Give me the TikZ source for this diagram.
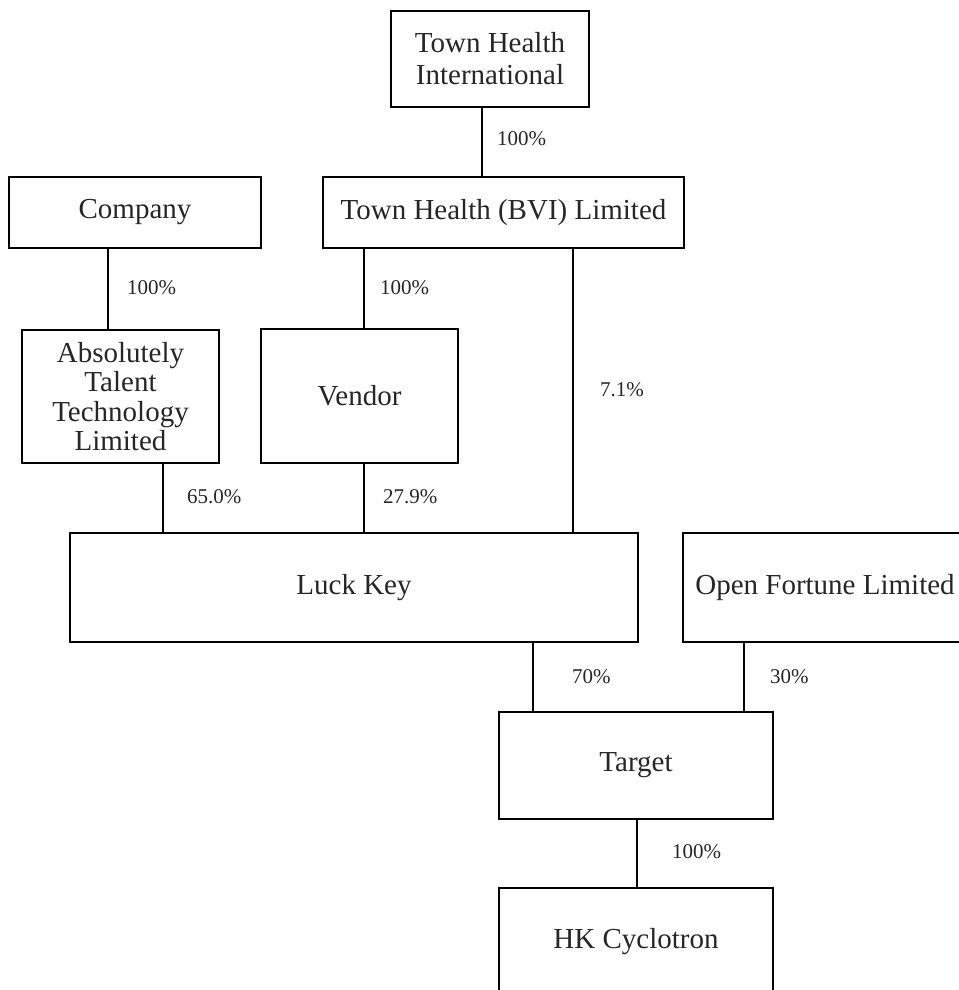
\documentclass[tikz,border=0pt]{standalone}
\usepackage{fontspec}
\setmainfont{Liberation Serif}
\begin{document}
\begin{tikzpicture}[x=1pt,y=-1pt,
  box/.style={draw, line width=1.2pt, inner sep=0pt, align=center,
    font=\fontsize{29}{32}\selectfont, text=black!85},
  pct/.style={anchor=west, inner sep=0pt, font=\fontsize{21}{24}\selectfont, text=black!85},
  link/.style={line width=1.2pt}]
\useasboundingbox (0,0) rectangle (958,990);
\node[box, minimum width=198pt, minimum height=96pt] (thi) at (490,59) {Town Health\\International};
\node[box, minimum width=361pt, minimum height=71pt] (bvi) at (503.5,212.5) {Town Health (BVI) Limited};
\node[box, minimum width=252pt, minimum height=71pt] (comp) at (135,212.5) {Company};
\node[box, minimum width=197pt, minimum height=133pt, font=\fontsize{29}{29.5}\selectfont] (attl) at (120.5,396.5) {Absolutely\\Talent\\Technology\\Limited};
\node[box, minimum width=197pt, minimum height=134pt] (vendor) at (359.5,396) {Vendor};
\node[box, minimum width=568pt, minimum height=109pt] (luck) at (354,587.5) {Luck Key};
\node[box, minimum width=284pt, minimum height=109pt] (open) at (825,587.5) {Open Fortune Limited};
\node[box, minimum width=274pt, minimum height=107pt] (target) at (636,765.5) {Target};
\node[box, minimum width=274pt, minimum height=107pt] (hk) at (636,941.5) {HK Cyclotron};

\draw[link] ([xshift=-8pt]thi.south) -- ([xshift=-8pt]thi.south |- bvi.north);
\draw[link] ([xshift=-27pt]comp.south) -- ([xshift=-27pt]comp.south |- attl.north);
\draw[link] ([xshift=4.5pt]vendor.north |- bvi.south) -- ([xshift=4.5pt]vendor.north);
\draw[link] ([xshift=69.5pt]bvi.south) -- ([xshift=69.5pt]bvi.south |- luck.north);
\draw[link] ([xshift=42.5pt]attl.south) -- ([xshift=42.5pt]attl.south |- luck.north);
\draw[link] ([xshift=4.5pt]vendor.south) -- ([xshift=4.5pt]vendor.south |- luck.north);
\draw[link] ([xshift=179pt]luck.south) -- ([xshift=179pt]luck.south |- target.north);
\draw[link] ([xshift=-81pt]open.south) -- ([xshift=-81pt]open.south |- target.north);
\draw[link] ([xshift=1pt]target.south) -- ([xshift=1pt]target.south |- hk.north);

\node[pct] (p1) at (497,139) {100\%};
\node[pct] (p2) at (127,288) {100\%};
\node[pct] (p3) at (380,288) {100\%};
\node[pct] (p4) at (600,390) {7.1\%};
\node[pct] (p5) at (187,497) {65.0\%};
\node[pct] (p6) at (383,497) {27.9\%};
\node[pct] (p7) at (572,677) {70\%};
\node[pct] (p8) at (770,677) {30\%};
\node[pct] (p9) at (672,852) {100\%};
\end{tikzpicture}
\end{document}
